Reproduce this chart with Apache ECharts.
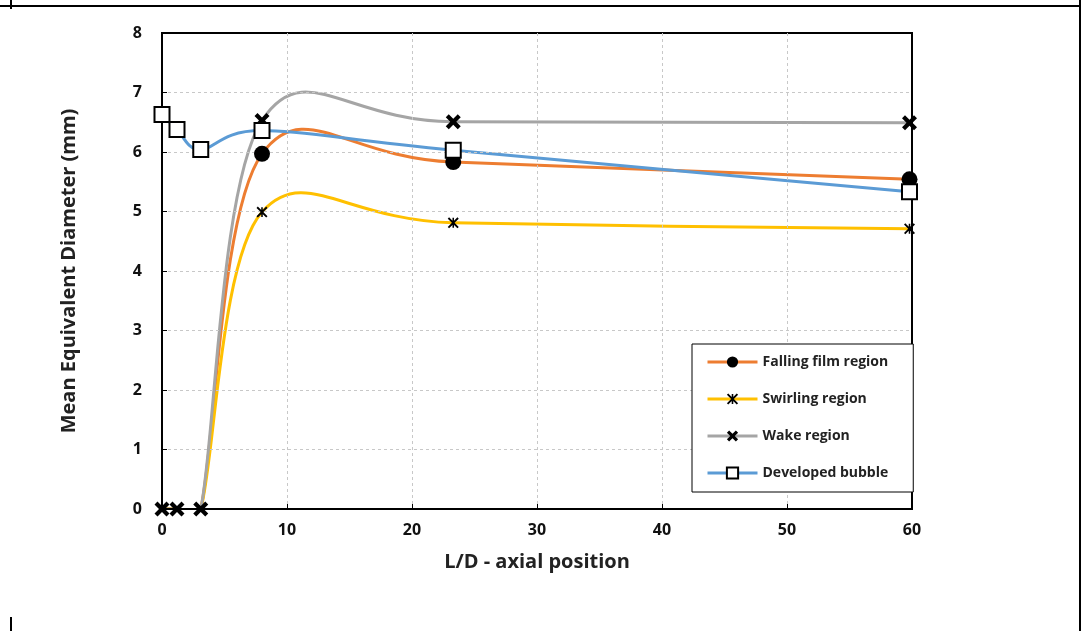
<!DOCTYPE html>
<html>
<head>
<meta charset="utf-8">
<script src="https://cdn.jsdelivr.net/npm/echarts@6/dist/echarts.min.js"></script>
<style>
  html, body { margin: 0; padding: 0; background: #fff; }
  #chart { width: 1090px; height: 631px; }
</style>
</head>
<body>
<div id="chart"></div>
<script>
// Axial positions (L/D) where bubble sizes were measured
const positions = [0, 1.2, 3.1, 8.0, 23.3, 59.8];

// Mean equivalent diameter (mm) per flow region
const fallingFilm = [0, 0, 0, 5.97, 5.83, 5.54];
const swirling    = [0, 0, 0, 4.99, 4.81, 4.71];
const wake        = [0, 0, 0, 6.53, 6.51, 6.49];
const developed   = [6.63, 6.38, 6.04, 6.36, 6.03, 5.33];

const seriesNames = ['Falling film region', 'Swirling region', 'Wake region', 'Developed bubble'];
const seriesColors = ['#ED7D31', '#FFC000', '#A5A5A5', '#5B9BD5'];
const xTicks = [0, 10, 20, 30, 40, 50, 60];
const yTicks = [0, 1, 2, 3, 4, 5, 6, 7, 8];

const FONT = '"Open Sans", sans-serif';

const crossPath = 'path://M0,2 L2,0 L5,3 L8,0 L10,2 L7,5 L10,8 L8,10 L5,7 L2,10 L0,8 L3,5 Z';
const starPath  = 'path://M0,1.2 L1.2,0 L5,3.8 L8.8,0 L10,1.2 L6.2,5 L10,8.8 L8.8,10 L5,6.2 L1.2,10 L0,8.8 L3.8,5 Z M4.3,0.5 L5.7,0.5 L5.7,9.5 L4.3,9.5 Z';

// Points whose marker is hidden (zero readings at the inlet)
function markerData(ys, hideZeros) {
  return positions.map((x, i) => {
    if (hideZeros && ys[i] === 0) return { value: [x, ys[i]], symbol: 'none' };
    return [x, ys[i]];
  });
}

// Markers for one region; the connecting curve is drawn by curveSeries
function markerSeries(idx, ys, symbol, size, itemStyle, hideZeros) {
  return {
    name: seriesNames[idx],
    type: 'line',
    data: markerData(ys, hideZeros),
    symbol: symbol,
    symbolSize: size,
    showAllSymbol: true,
    z: 4,
    lineStyle: { color: seriesColors[idx], width: 3, opacity: 0 },
    itemStyle: itemStyle,
    emphasis: { disabled: true }
  };
}

// Smoothed spline (Catmull-Rom as cubic Bezier) through a region's points
function curveSeries(idx, ys) {
  return {
    name: seriesNames[idx] + ' curve',
    type: 'custom',
    data: [[positions[0], ys[0]]],
    z: 2,
    silent: true,
    renderItem: function (params, api) {
      const p = positions.map((x, i) => api.coord([x, ys[i]]));
      const n = p.length;
      let d = 'M' + p[0][0] + ',' + p[0][1];
      for (let i = 0; i < n - 1; i++) {
        const a = p[Math.max(i - 1, 0)], b = p[i], c = p[i + 1], e = p[Math.min(i + 2, n - 1)];
        const c1x = b[0] + (c[0] - a[0]) / 6, c1y = b[1] + (c[1] - a[1]) / 6;
        const c2x = c[0] - (e[0] - b[0]) / 6, c2y = c[1] - (e[1] - b[1]) / 6;
        d += ' C' + c1x + ',' + c1y + ' ' + c2x + ',' + c2y + ' ' + c[0] + ',' + c[1];
      }
      const cs = params.coordSys;
      return {
        type: 'path',
        shape: { pathData: d },
        clipPath: { type: 'rect', shape: { x: cs.x, y: cs.y, width: cs.width, height: cs.height } },
        style: { fill: null, stroke: seriesColors[idx], lineWidth: 3, lineJoin: 'round' }
      };
    }
  };
}

const chart = echarts.init(document.getElementById('chart'), null, { renderer: 'canvas' });

const gridLine = { show: true, showMinLine: false, showMaxLine: false,
                   lineStyle: { color: '#c8c8c8', type: [3, 3], width: 1 } };

chart.setOption({
  animation: false,
  backgroundColor: '#fff',
  grid: { left: 162, right: 178, top: 33, bottom: 122, containLabel: false,
          show: true, borderColor: '#000', borderWidth: 2 },
  xAxis: {
    type: 'value',
    min: xTicks[0], max: xTicks[xTicks.length - 1], interval: 10,
    z: 3,
    name: 'L/D - axial position',
    nameLocation: 'middle', nameGap: 43,
    nameTextStyle: { fontFamily: FONT, fontWeight: 'bold', fontSize: 20, color: '#222' },
    axisLine: { show: true, lineStyle: { color: '#000', width: 2 } },
    axisTick: { show: true, inside: true, length: 5, lineStyle: { color: '#000' } },
    axisLabel: { fontFamily: FONT, fontWeight: 'bold', fontSize: 16, color: '#111', margin: 13 },
    splitLine: gridLine
  },
  yAxis: {
    type: 'value',
    min: yTicks[0], max: yTicks[yTicks.length - 1], interval: 1,
    z: 3,
    name: 'Mean Equivalent Diameter (mm)',
    nameLocation: 'middle', nameGap: 83, nameRotate: 90,
    nameTextStyle: { fontFamily: FONT, fontWeight: 'bold', fontSize: 20, color: '#222' },
    axisLine: { show: true, lineStyle: { color: '#000', width: 2 } },
    axisTick: { show: true, inside: true, length: 5, lineStyle: { color: '#000' } },
    axisLabel: { fontFamily: FONT, fontWeight: 'bold', fontSize: 16, color: '#111', margin: 20 },
    splitLine: gridLine
  },
  legend: {
    orient: 'vertical',
    left: 692, top: 344,
    padding: [11, 25, 12, 14],
    itemGap: 23,
    itemWidth: 50, itemHeight: 14,
    backgroundColor: '#fff',
    borderColor: '#000', borderWidth: 1,
    lineStyle: { opacity: 1, width: 3 },
    textStyle: { fontFamily: FONT, fontWeight: 'bold', fontSize: 14, color: '#222' },
    data: seriesNames
  },
  series: [
    curveSeries(0, fallingFilm),
    curveSeries(1, swirling),
    curveSeries(2, wake),
    curveSeries(3, developed),
    markerSeries(0, fallingFilm, 'circle', 16, { color: '#000' }, true),
    markerSeries(1, swirling, starPath, 11, { color: '#000' }, true),
    markerSeries(2, wake, crossPath, 15, { color: '#000' }, false),
    markerSeries(3, developed, 'rect', 15, { color: '#fff', borderColor: '#000', borderWidth: 2 }, false)
  ],
  graphic: [
    { type: 'line', shape: { x1: 0, y1: 6, x2: 1081, y2: 6 }, style: { stroke: '#000', lineWidth: 2 } },
    { type: 'line', shape: { x1: 11, y1: 0, x2: 11, y2: 9 }, style: { stroke: '#000', lineWidth: 2 } },
    { type: 'line', shape: { x1: 1080, y1: 0, x2: 1080, y2: 631 }, style: { stroke: '#000', lineWidth: 2 } },
    { type: 'line', shape: { x1: 11, y1: 617, x2: 11, y2: 631 }, style: { stroke: '#000', lineWidth: 2 } }
  ]
});
</script>
</body>
</html>
